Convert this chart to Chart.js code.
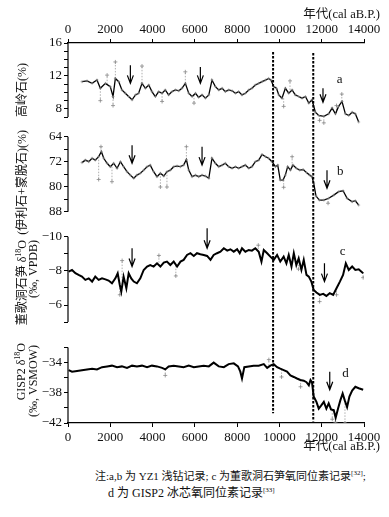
<!DOCTYPE html>
<html>
<head>
<meta charset="utf-8">
<script src="https://cdn.jsdelivr.net/npm/chart.js@4.4.1/dist/chart.umd.min.js"></script>
<style>
  body { margin: 0; background: #fff; width: 389px; height: 517px; overflow: hidden; position: relative;
         font-family: "Liberation Serif", "Noto Sans CJK SC", serif; color: #111; }
  #wrap { position: absolute; left: 0; top: 0; width: 389px; height: 458px; }
  .note { position: absolute; white-space: nowrap; }
  .note sup { font-size: 7px; }
</style>
</head>
<body>
<div id="wrap"><canvas id="chart" width="389" height="458"></canvas></div>
<div class="note" style="left:95px;top:467px;font-size:11px">注:a,b 为 YZ1 浅钻记录; c 为董歌洞石笋氧同位素记录<sup>[32]</sup>;</div>
<div class="note" style="left:108px;top:483px;font-size:12px">d 为 GISP2 冰芯氧同位素记录<sup>[33]</sup></div>
<script>
// ---------- data (years cal aB.P.) ----------
const xTicks = [0, 2000, 4000, 6000, 8000, 10000, 12000, 14000];

// a: kaolinite %
const aYears = [660,900,1140,1370,1530,1770,2000,2130,2240,2400,2550,2710,2870,3030,3190,3340,3500,3660,3820,3970,4130,4290,4450,4600,4760,4920,5080,5240,5390,5550,5710,5870,6030,6180,6340,6500,6660,6810,6970,7130,7290,7440,7600,7760,7920,8070,8230,8390,8550,8700,8860,9020,9180,9340,9490,9600,9730,9860,9970,10120,10280,10440,10600,10750,10910,11070,11230,11390,11540,11700,11860,12100,12330,12490,12650,12800,12960,13120,13280,13440,13590,13750];
const aValues = [11.3,11.4,11.1,11.5,10.5,11.1,10.7,9.5,11.7,11.3,10.3,9.9,9.5,9.1,9.7,9.9,11.1,10.5,10.9,10.1,9.5,10.1,9.9,10.3,9.7,10.1,10.3,10.2,10.5,11.1,9.9,9.5,9.9,9.4,9.7,9.3,9.7,11.5,10.7,10.3,10.5,10.1,10.3,10.2,9.9,10.1,9.7,9.9,10.3,10.5,10.9,11.1,11.3,11.5,11.7,11.5,10.7,10.5,9.7,9.3,10.5,9.9,10.3,9.7,9.5,9.3,9.5,8.7,9.1,7.6,7.2,7.1,7.4,8.1,7.4,8.3,8.9,7.4,7.2,7.6,7.4,6.4];
const aSpikeYears = [1530,1850,2130,2240,3500,4450,5550,5960,10200,10500,11900,12100,12700,12950];
const aSpikeBase  = [10.5,11.0,9.5,11.7,11.1,9.9,11.1,9.7,9.3,10.3,7.2,7.1,7.5,8.9];
const aSpikeTip   = [9.0,12.1,8.4,13.7,13.2,8.9,12.5,8.7,8.3,11.4,6.6,6.3,8.4,9.8];
const aTicks = [7,8,9,10,11,12,13,14,15,16];
const aLabels = [8,12,16];

// b: illite + montmorillonite %
const bYears = [660,820,980,1140,1290,1450,1580,1690,1850,2000,2160,2320,2480,2630,2790,2950,3110,3260,3420,3580,3740,3890,4050,4210,4370,4530,4680,4840,5000,5160,5320,5470,5600,5710,5870,6030,6180,6340,6500,6660,6810,6970,7130,7290,7440,7600,7760,7920,8070,8230,8390,8550,8700,8860,9020,9180,9340,9490,9650,9810,9920,10040,10170,10280,10390,10520,10640,10800,10960,11120,11280,11430,11540,11620,11730,11890,12100,12330,12570,12800,13010,13200,13440,13590,13750];
const bValues = [72.3,71.5,72.0,70.9,71.5,70.4,68.8,70.9,72.5,73.6,72.5,74.1,72.0,73.6,75.2,76.3,77.3,76.3,75.7,74.7,73.6,73.1,75.2,76.8,75.7,76.6,75.2,74.7,73.6,73.4,73.6,73.1,71.3,74.7,76.8,76.3,76.8,76.3,76.6,77.3,70.9,72.5,73.6,73.1,72.5,73.6,74.1,73.6,74.1,73.6,73.1,74.1,73.6,72.0,71.5,69.7,70.4,70.9,72.0,73.6,73.1,77.9,77.9,76.3,73.6,74.7,73.1,74.1,74.7,74.5,75.5,76.3,76.8,78.9,83.0,84.3,84.3,83.7,82.7,81.6,81.3,83.7,84.8,84.5,85.9];
const bSpikeYears = [1450,1560,2080,4370,4680,5600,10200,10600,12300];
const bSpikeBase  = [70.4,69.5,73.6,75.7,75.2,71.3,77.9,73.5,83.7];
const bSpikeTip   = [77.7,67.2,78.4,80.1,80.1,67.2,80.2,70.4,85.3];
const bTicks = [64,68,72,76,80,84,88];
const bLabels = [64,72,80,88];

// c: Donge cave stalagmite d18O (permil VPDB)
const cYears = [30,190,350,500,660,820,980,1140,1290,1450,1610,1770,1920,2080,2240,2350,2450,2520,2630,2760,2870,2990,3110,3260,3420,3580,3740,3890,4050,4210,4370,4530,4680,4840,5000,5160,5320,5470,5630,5790,5950,6100,6260,6420,6580,6740,6890,7050,7210,7370,7530,7680,7840,8000,8120,8230,8390,8550,8700,8860,9020,9150,9260,9420,9570,9730,9890,10040,10200,10330,10440,10570,10680,10800,10910,11040,11150,11280,11390,11510,11620,11750,11910,12070,12220,12380,12540,12700,12860,13010,13140,13280,13440,13590,13750,13960];
const cValues = [-7.95,-8.05,-7.86,-7.76,-7.66,-7.47,-7.56,-7.37,-7.66,-7.47,-7.56,-7.50,-7.43,-7.27,-7.56,-7.86,-7.17,-6.78,-7.66,-6.98,-7.86,-7.56,-7.37,-7.27,-7.56,-8.05,-8.25,-8.34,-8.25,-8.44,-8.25,-8.48,-8.54,-8.34,-8.54,-8.25,-8.54,-8.64,-8.93,-9.03,-8.87,-9.03,-8.97,-8.93,-8.87,-8.64,-8.93,-9.03,-9.12,-9.32,-9.18,-9.26,-9.12,-9.26,-9.03,-9.32,-9.12,-9.22,-9.18,-9.32,-9.12,-8.54,-9.22,-9.03,-8.83,-8.64,-8.93,-8.54,-8.83,-8.44,-8.93,-8.25,-9.03,-8.34,-8.73,-8.05,-8.64,-7.76,-7.66,-7.37,-6.88,-6.73,-6.59,-6.65,-6.53,-6.69,-6.59,-6.98,-7.37,-7.76,-8.44,-8.05,-8.25,-8.05,-8.09,-7.86];
const cSpikeYears = [2450,2560,4300,5100,9000,10900,11900,12700,13960];
const cSpikeBase  = [-7.17,-7.4,-8.3,-8.3,-9.1,-8.7,-6.6,-7.0,-7.9];
const cSpikeTip   = [-6.6,-8.6,-8.9,-7.7,-9.5,-8.1,-6.2,-6.6,-7.6];
const cTicks = [-10,-9,-8,-7,-6,-5];
const cLabels = [-10,-8,-6];

// d: GISP2 d18O (permil VSMOW)
const dYears = [30,190,430,660,900,1140,1370,1610,1850,2080,2320,2550,2790,3030,3260,3500,3740,3970,4210,4450,4600,4760,5000,5240,5470,5710,5950,6180,6420,6660,6890,7130,7370,7600,7840,8040,8150,8230,8340,8550,8780,9020,9260,9420,9570,9730,9890,10040,10200,10360,10520,10680,10830,10990,11150,11280,11390,11470,11540,11620,11750,11860,11970,12100,12220,12330,12440,12570,12660,12770,12880,12990,13090,13200,13310,13440,13590,13750,13960];
const dValues = [-35.0,-35.2,-35.1,-35.0,-34.9,-34.8,-34.9,-34.6,-34.5,-34.4,-34.6,-34.5,-34.7,-34.4,-34.5,-34.4,-34.6,-34.4,-34.5,-34.7,-34.9,-34.5,-34.4,-34.5,-34.6,-34.4,-34.6,-34.5,-34.4,-34.5,-34.0,-34.5,-34.6,-34.2,-34.1,-34.5,-35.2,-36.1,-34.6,-34.5,-34.4,-34.4,-34.2,-34.7,-34.4,-34.2,-34.6,-34.8,-35.0,-35.2,-35.7,-35.9,-36.1,-36.3,-36.4,-36.6,-37.0,-36.3,-36.6,-38.5,-39.2,-40.1,-39.7,-39.2,-40.1,-39.4,-40.2,-40.3,-41.3,-40.1,-39.0,-38.1,-39.0,-39.9,-38.5,-37.7,-37.2,-37.4,-37.6];
const dSpikeYears = [4600,9500,10100,11000,12500,12650,13100];
const dSpikeBase  = [-34.9,-34.4,-34.9,-36.3,-40.3,-41.3,-39.0];
const dSpikeTip   = [-35.7,-33.6,-35.9,-37.2,-41.5,-41.9,-42.0];
const dTicks = [-42,-40,-38,-36,-34,-32];
const dLabels = [-34,-38,-42];

// arrows (year, start value, tip value) per panel
const arrowsA = { years: [2950, 6260, 12060], from: [13.3, 13.1, 10.5], to: [11.1, 11.1, 8.8] };
const arrowsB = { years: [3030, 6340, 12250], from: [66.7, 67.2, 74.7], to: [72.5, 73.1, 80.5] };
const arrowsC = { years: [3030, 6580, 12130], from: [-9.32, -10.49, -8.44], to: [-8.25, -9.32, -7.37] };
const arrowsD = { years: [12380], from: [-35.2], to: [-37.6] };

// panel letters
const tagNames = ['a', 'b', 'c', 'd'];
const tagYears = [12850, 12880, 12990, 13120];
const tagValues = [11.5, 75.2, -9.12, -35.5];

// dashed boundaries (top given on axis a, bottom on axis d)
const boundaryYears = [9700, 11600];
const boundaryTop = [14.9, 14.8];
const boundaryBottom = [-40.7, -41.8];

// ---------- helpers ----------
const TICK_FONT = { family: '"Liberation Serif", serif', size: 13 };
const pts = (xs, ys) => xs.map((x, i) => ({ x, y: ys[i] }));
const spikePts = (xs, base, tip) => {
  const out = [];
  xs.forEach((x, i) => { out.push({ x, y: base[i] }, { x, y: tip[i] }, { x, y: null }); });
  return out;
};
const fmt = v => (v < 0 ? '\u2212' + Math.abs(v) : String(v));

function yScale(min, max, reverse, ticks, labels, weight, stackWeight) {
  return {
    type: 'linear', position: 'left', stack: 'panels', stackWeight, weight,
    min, max, reverse,
    border: { display: false },
    grid: { drawOnChartArea: false, drawTicks: true, tickLength: 4, color: '#000', lineWidth: 1 },
    ticks: { autoSkip: false, color: '#111', font: TICK_FONT, padding: 2,
             callback: v => (labels.includes(v) ? fmt(v) : '') },
    afterBuildTicks: s => { s.ticks = ticks.map(v => ({ value: v })); },
    afterFit: s => { s.width = 68; }
  };
}

function xScale(pos, h) {
  return {
    type: 'linear', position: pos, axis: 'x', min: 0, max: 14000,
    border: { display: true, color: '#000', width: 1.2 },
    grid: { drawOnChartArea: false, drawTicks: true, tickLength: 4, color: '#000' },
    ticks: { autoSkip: false, maxRotation: 0, color: '#111', font: TICK_FONT, padding: pos === 'top' ? 2 : 3,
             callback: v => String(v) },
    afterBuildTicks: s => { s.ticks = xTicks.map(v => ({ value: v })); },
    afterFit: s => { s.height = h; }
  };
}

const mainLine = (data, yAxisID, width, marks) => ({
  data, yAxisID, xAxisID: 'x', order: 1,
  borderColor: '#000', borderWidth: width, tension: 0,
  pointRadius: marks ? 1.5 : 0, pointStyle: 'cross', pointBorderColor: '#888', pointBorderWidth: 0.6
});
const spikeLine = (data, yAxisID) => ({
  data, yAxisID, xAxisID: 'x', order: 2, spanGaps: false,
  borderColor: '#9a9a9a', borderWidth: 0.8, borderDash: [1.5, 1.5],
  pointRadius: c => (c.dataIndex % 3 === 1 ? 2 : 0), pointStyle: 'cross',
  pointBorderColor: '#888', pointBorderWidth: 0.8
});

// ---------- decorations ----------
function drawRuns(ctx, runs, x, top) {
  ctx.save();
  ctx.translate(x, top);
  ctx.rotate(-Math.PI / 2);
  ctx.textBaseline = 'middle';
  ctx.textAlign = 'left';
  let total = 0;
  runs.forEach(r => { ctx.font = r.font; total += ctx.measureText(r.t).width; });
  let cx = -total;
  runs.forEach(r => { ctx.font = r.font; ctx.fillText(r.t, cx, r.dy || 0); cx += ctx.measureText(r.t).width; });
  ctx.restore();
}

const decor = {
  id: 'decor',
  afterDatasetsDraw(chart) {
    const ctx = chart.ctx;
    const x = chart.scales.x;
    const panels = [
      { s: chart.scales.ya, ticks: aTicks, arrows: arrowsA },
      { s: chart.scales.yb, ticks: bTicks, arrows: arrowsB },
      { s: chart.scales.yc, ticks: cTicks, arrows: arrowsC },
      { s: chart.scales.yd, ticks: dTicks, arrows: arrowsD }
    ];
    ctx.save();
    ctx.strokeStyle = '#000';
    ctx.fillStyle = '#111';

    // y axis lines, only over the tick range
    ctx.lineWidth = 1.2;
    panels.forEach(p => {
      ctx.beginPath();
      ctx.moveTo(p.s.right, p.s.getPixelForValue(p.ticks[0]));
      ctx.lineTo(p.s.right, p.s.getPixelForValue(p.ticks[p.ticks.length - 1]));
      ctx.stroke();
    });

    // dashed boundaries
    ctx.lineWidth = 2;
    ctx.setLineDash([2.5, 1.5]);
    boundaryYears.forEach((yr, i) => {
      const px = x.getPixelForValue(yr);
      ctx.beginPath();
      ctx.moveTo(px, chart.scales.ya.getPixelForValue(boundaryTop[i]));
      ctx.lineTo(px, chart.scales.yd.getPixelForValue(boundaryBottom[i]));
      ctx.stroke();
    });
    ctx.setLineDash([]);

    // arrows
    ctx.lineWidth = 1.2;
    panels.forEach(p => {
      p.arrows.years.forEach((yr, i) => {
        const px = x.getPixelForValue(yr);
        const y0 = p.s.getPixelForValue(p.arrows.from[i]);
        const y1 = p.s.getPixelForValue(p.arrows.to[i]);
        ctx.beginPath();
        ctx.moveTo(px, y0); ctx.lineTo(px, y1);
        ctx.moveTo(px - 3, y1 - 8); ctx.lineTo(px, y1); ctx.lineTo(px + 3, y1 - 8);
        ctx.stroke();
      });
    });

    // panel letters
    ctx.font = '13px "Liberation Serif", serif';
    ctx.textAlign = 'center';
    ctx.textBaseline = 'middle';
    tagNames.forEach((t, i) => {
      ctx.fillText(t, x.getPixelForValue(tagYears[i]), panels[i].s.getPixelForValue(tagValues[i]));
    });

    // x axis titles
    ctx.font = '12.5px "Liberation Serif", "Noto Sans CJK SC", serif';
    ctx.textAlign = 'right';
    ctx.fillText('年代(cal aB.P.)', 380, 15);
    ctx.fillText('年代(cal aB.P.)', 380, 447);

    // y axis titles
    const f = '12px "Liberation Serif", "Noto Sans CJK SC", serif';
    const fs = '8px "Liberation Serif", serif';
    drawRuns(ctx, [{ t: '高岭石(%)', font: f }], 23, 63);
    drawRuns(ctx, [{ t: '(伊利石+蒙脱石)(%)', font: f }], 23, 130);
    drawRuns(ctx, [{ t: '董歌洞石笋 δ', font: f }, { t: '18', font: fs, dy: -4 }, { t: 'O', font: f }], 23, 240);
    drawRuns(ctx, [{ t: '(‰, VPDB)', font: f }], 34, 240);
    drawRuns(ctx, [{ t: 'GISP2 δ', font: f }, { t: '18', font: fs, dy: -4 }, { t: 'O', font: f }], 22, 343);
    drawRuns(ctx, [{ t: '(‰, VSMOW)', font: f }], 34, 345);
    ctx.restore();
  }
};

// ---------- chart ----------
new Chart(document.getElementById('chart').getContext('2d'), {
  type: 'line',
  data: {
    datasets: [
      mainLine(pts(aYears, aValues), 'ya', 1.3, true),
      mainLine(pts(bYears, bValues), 'yb', 1.3, true),
      mainLine(pts(cYears, cValues), 'yc', 2, false),
      mainLine(pts(dYears, dValues), 'yd', 2, false),
      spikeLine(spikePts(aSpikeYears, aSpikeBase, aSpikeTip), 'ya'),
      spikeLine(spikePts(bSpikeYears, bSpikeBase, bSpikeTip), 'yb'),
      spikeLine(spikePts(cSpikeYears, cSpikeBase, cSpikeTip), 'yc'),
      spikeLine(spikePts(dSpikeYears, dSpikeBase, dSpikeTip), 'yd')
    ]
  },
  options: {
    responsive: false,
    animation: false,
    events: [],
    layout: { padding: { left: 0, right: 25, top: 0, bottom: 0 } },
    plugins: { legend: { display: false }, tooltip: { enabled: false } },
    scales: {
      x: xScale('bottom', 35),
      xTop: xScale('top', 43),
      ya: yScale(5.8, 16, false, aTicks, aLabels, 4, 84),
      yb: yScale(60.9, 91.94, true, bTicks, bLabels, 3, 97),
      yc: yScale(-10.74, -4.245, true, cTicks, cLabels, 2, 111),
      yd: yScale(-42, -30.34, false, dTicks, dLabels, 1, 88)
    }
  },
  plugins: [decor]
});
</script>
</body>
</html>
